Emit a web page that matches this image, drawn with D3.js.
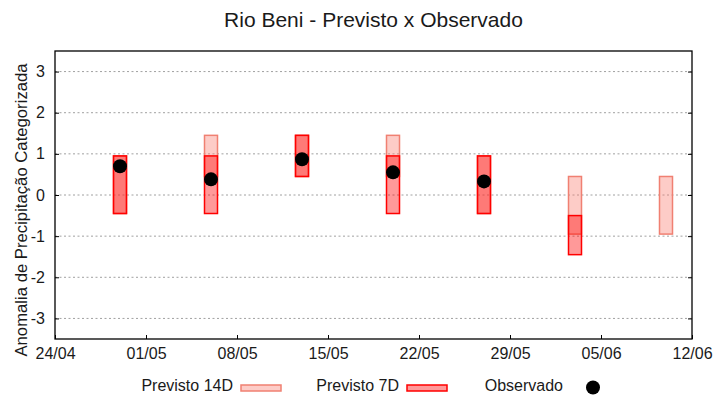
<!DOCTYPE html>
<html>
<head>
<meta charset="utf-8">
<script src="https://cdn.jsdelivr.net/npm/d3@7"></script>
<style>
body{margin:0;background:#fff;}
text{font-family:"Liberation Sans",Arial,sans-serif;fill:#1a1a1a;}
</style>
</head>
<body>
<div class="canvas"></div>
<script>
// data
const dates=['2024-04-29','2024-05-06','2024-05-13','2024-05-20','2024-05-27','2024-06-03','2024-06-10'];
const p14Low=[-0.45,0.45,0.45,0.45,-0.45,-0.95,-0.95];
const p14High=[0.95,1.45,1.45,1.45,0.95,0.45,0.45];
const p7Low=[-0.45,-0.45,0.45,-0.45,-0.45,-1.45,null];
const p7High=[0.95,0.95,1.45,0.95,0.95,-0.5,null];
const observed=[0.70,0.38,0.87,0.55,0.33,null,null];
const xTickLabels=['24/04','01/05','08/05','15/05','22/05','29/05','05/06','12/06'];
const yTicks=[-3,-2,-1,0,1,2,3];

const dims={width:720,height:400};
const m={left:55,right:28,top:51,bottom:61};
const parse=d3.timeParse('%Y-%m-%d');
const font='"Liberation Sans",Arial,sans-serif';

const svg=d3.select('.canvas')
  .append('svg')
  .attr('width',dims.width)
  .attr('height',dims.height);

const x=d3.scaleTime()
  .domain([parse('2024-04-24'),parse('2024-06-12')])
  .range([m.left,dims.width-m.right]);
const y=d3.scaleLinear()
  .domain([-3.5,3.5])
  .range([dims.height-m.bottom,m.top]);

//grid
svg.append('g')
  .selectAll('line')
  .data(yTicks)
  .enter().append('line')
  .attr('x1',m.left).attr('x2',dims.width-m.right)
  .attr('y1',d=>y(d)).attr('y2',d=>y(d))
  .attr('stroke','#a0a0a0')
  .attr('stroke-width',1)
  .attr('stroke-dasharray','2,2.5');

//bars (one day wide)
const rows=dates.map((d,i)=>({date:parse(d),l14:p14Low[i],h14:p14High[i],l7:p7Low[i],h7:p7High[i],obs:observed[i]}));
const bw=x(parse('2024-04-25'))-x(parse('2024-04-24'));

svg.append('g').selectAll('rect')
  .data(rows)
  .enter().append('rect')
  .attr('x',d=>x(d.date)-bw/2)
  .attr('width',bw)
  .attr('y',d=>y(d.h14))
  .attr('height',d=>y(d.l14)-y(d.h14))
  .attr('fill','rgba(250,128,114,0.4)')
  .attr('stroke','#f08072')
  .attr('stroke-width',1.5);

svg.append('g').selectAll('rect')
  .data(rows.filter(d=>d.l7!==null))
  .enter().append('rect')
  .attr('x',d=>x(d.date)-bw/2)
  .attr('width',bw)
  .attr('y',d=>y(d.h7))
  .attr('height',d=>y(d.l7)-y(d.h7))
  .attr('fill','rgba(255,0,0,0.4)')
  .attr('stroke','#ff0000')
  .attr('stroke-width',1.5);

svg.append('g').selectAll('circle')
  .data(rows.filter(d=>d.obs!==null))
  .enter().append('circle')
  .attr('cx',d=>x(d.date))
  .attr('cy',d=>y(d.obs))
  .attr('r',7)
  .attr('fill','#000');

//axes
const xTicks=xTickLabels.map(s=>{
  const [dd,mm]=s.split('/');
  return parse(`2024-${mm}-${dd}`);
});
const styleAxis=g=>{
  g.select('.domain').remove();
  g.selectAll('line').attr('stroke','#000');
  g.selectAll('text').attr('font-size',16).attr('font-family',font).attr('fill','#1a1a1a');
};
svg.append('g')
  .attr('transform',`translate(0,${dims.height-m.bottom})`)
  .call(d3.axisBottom(x).tickValues(xTicks).tickFormat((d,i)=>xTickLabels[i]).tickSizeInner(-4).tickSizeOuter(0).tickPadding(9))
  .call(styleAxis);

svg.append('g')
  .attr('transform',`translate(${m.left},0)`)
  .call(d3.axisLeft(y).tickValues(yTicks).tickFormat(d=>String(d)).tickSizeInner(-4).tickSizeOuter(0).tickPadding(10))
  .call(styleAxis);

svg.append('g')
  .attr('transform',`translate(${dims.width-m.right},0)`)
  .call(d3.axisRight(y).tickValues(yTicks).tickSizeInner(-4).tickSizeOuter(0).tickFormat(''))
  .call(styleAxis);

//frame
svg.append('rect')
  .attr('x',m.left).attr('y',m.top)
  .attr('width',dims.width-m.left-m.right)
  .attr('height',dims.height-m.top-m.bottom)
  .attr('fill','none')
  .attr('stroke','#000')
  .attr('stroke-width',1.3);

//title and label
svg.append('text')
  .attr('x',(m.left+dims.width-m.right)/2)
  .attr('y',27)
  .attr('text-anchor','middle')
  .attr('font-size',21)
  .text('Rio Beni - Previsto x Observado');

svg.append('text')
  .attr('transform',`translate(27,210) rotate(-90)`)
  .attr('text-anchor','middle')
  .attr('font-size',16.7)
  .text('Anomalia de Precipitação Categorizada');

//legend
const legendY=391;
const leg=svg.append('g');
leg.append('text').attr('x',233).attr('y',legendY).attr('text-anchor','end').attr('font-size',16).text('Previsto 14D');
leg.append('rect').attr('x',241).attr('y',legendY-6).attr('width',40).attr('height',6)
  .attr('fill','rgba(250,128,114,0.4)').attr('stroke','#f08072').attr('stroke-width',1.5);
leg.append('text').attr('x',399).attr('y',legendY).attr('text-anchor','end').attr('font-size',16).text('Previsto 7D');
leg.append('rect').attr('x',407).attr('y',legendY-6).attr('width',40).attr('height',6)
  .attr('fill','rgba(255,0,0,0.4)').attr('stroke','#ff0000').attr('stroke-width',1.5);
leg.append('text').attr('x',563).attr('y',legendY).attr('text-anchor','end').attr('font-size',16).text('Observado');
leg.append('circle').attr('cx',593).attr('cy',legendY-3.5).attr('r',7).attr('fill','#000');
</script>
</body>
</html>
